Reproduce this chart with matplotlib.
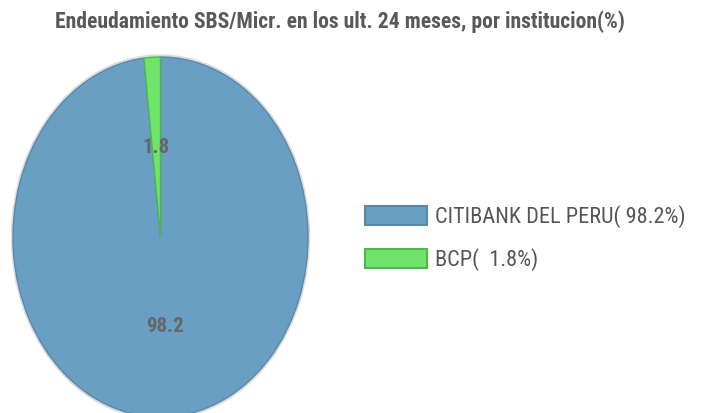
"""Pie chart: endeudamiento SBS/Micr. por institucion."""

import matplotlib
matplotlib.use("Agg")
import matplotlib.pyplot as plt
from matplotlib.patches import Patch

institutions = ["CITIBANK DEL PERU", "BCP"]
shares = [98.2, 1.8]
colors = ["#689fc3", "#6fe36a"]
edge_colors = ["#5b88a8", "#4fb84c"]
title = "Endeudamiento SBS/Micr. en los ult. 24 meses, por institucion(%)"

plt.rcParams["font.family"] = ["Roboto Condensed", "DejaVu Sans"]

W, H = 708, 413
fig = plt.figure(figsize=(W / 100, H / 100), dpi=100)

# pie is drawn as an ellipse: axes in pixel units, aspect left free
cx, cy = 160.5, H - 237
rx, ry = 147.5, 180
ax = fig.add_axes([(cx - rx) / W, (cy - ry) / H, 2 * rx / W, 2 * ry / H])

# faint halo round the pie
ax.pie(shares, colors=["#dcdcdc"] * len(shares), radius=1.015,
       startangle=90, counterclock=False, wedgeprops=dict(linewidth=0))

wedges, _, autotexts = ax.pie(
    shares, colors=colors, startangle=90, counterclock=False,
    autopct="%.1f", pctdistance=0.5,
    wedgeprops=dict(linewidth=1.0),
    textprops=dict(color="#666666", fontsize=15, fontweight="bold"),
)
for w, ec in zip(wedges, edge_colors):
    w.set_edgecolor(ec)

ax.set_aspect("auto")
ax.set_xlim(-1, 1)
ax.set_ylim(-1, 1)
ax.set_axis_off()

fig.text(340 / W, 1 - 22 / H, title, ha="center", va="center",
         fontsize=15.6, fontweight="bold", color="#595959")

handles = [Patch(facecolor=c, edgecolor=ec, linewidth=1.5)
           for c, ec in zip(colors, edge_colors)]
labels = [f"{n}({s:5.1f}%)" for n, s in zip(institutions, shares)]
fig.legend(handles, labels, loc="center left",
           bbox_to_anchor=(365 / W, 1 - 238 / H), frameon=False,
           borderpad=0, borderaxespad=0,
           handlelength=2.8, handleheight=0.95, handletextpad=0.36,
           labelspacing=0.9, prop=dict(size=16),
           labelcolor="#555555")

fig.savefig("out.png", dpi=100)
